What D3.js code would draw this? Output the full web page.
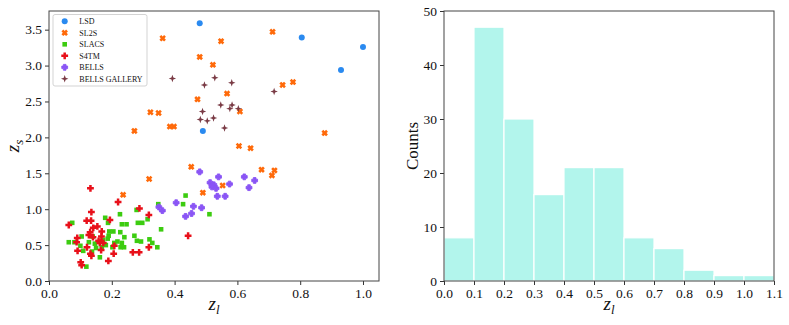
<!DOCTYPE html>
<html>
<head>
<meta charset="utf-8">
<script src="https://cdn.jsdelivr.net/npm/d3@7"></script>
<style>
  body { margin: 0; background: #fff; }
  svg { display: block; }
  text { font-family: "Liberation Serif", "Times New Roman", serif; fill: #111; }
</style>
</head>
<body>
<script>
// lens samples: [z_l, z_s]
const LSD = [[0.48,3.59],[0.805,3.39],[1.0,3.26],[0.93,2.94],[0.49,2.09]];
const SL2S = [[0.362,3.38],[0.712,3.47],[0.548,3.34],[0.480,3.12],[0.522,3.01],[0.744,2.73],
  [0.777,2.77],[0.567,2.61],[0.473,2.53],[0.323,2.35],[0.349,2.34],[0.608,2.36],[0.385,2.15],
  [0.398,2.15],[0.272,2.09],[0.605,1.88],[0.642,1.85],[0.878,2.06],[0.677,1.55],[0.718,1.54],
  [0.710,1.47],[0.553,1.33],[0.490,1.23],[0.453,1.59],[0.319,1.42],[0.236,1.20]];
const SLACS = [[0.074,0.81],[0.179,0.88],[0.226,0.93],[0.188,0.81],[0.232,0.79],[0.247,0.79],
  [0.283,0.81],[0.297,0.81],[0.279,0.99],[0.348,1.07],[0.435,1.19],[0.511,0.93],[0.357,0.72],
  [0.314,0.86],[0.192,0.69],[0.205,0.69],[0.227,0.68],[0.272,0.63],[0.280,0.56],[0.293,0.55],
  [0.320,0.58],[0.329,0.53],[0.345,0.47],[0.190,0.63],[0.187,0.59],[0.218,0.55],[0.240,0.61],
  [0.232,0.53],[0.228,0.47],[0.239,0.47],[0.208,0.53],[0.202,0.47],[0.172,0.57],[0.146,0.52],
  [0.139,0.62],[0.104,0.62],[0.063,0.54],[0.081,0.54],[0.127,0.54],[0.150,0.46],[0.162,0.33],
  [0.119,0.20],[0.100,0.49],[0.109,0.42],[0.137,0.41],[0.181,0.50],[0.168,0.47],[0.427,1.07]];
const S4TM = [[0.132,1.29],[0.135,0.96],[0.220,1.10],[0.288,1.01],[0.318,0.92],[0.063,0.78],
  [0.120,0.84],[0.134,0.84],[0.154,0.76],[0.141,0.74],[0.168,0.69],[0.131,0.68],[0.127,0.64],
  [0.090,0.60],[0.088,0.54],[0.158,0.56],[0.162,0.53],[0.173,0.53],[0.194,0.85],[0.208,0.49],
  [0.121,0.47],[0.091,0.42],[0.132,0.38],[0.135,0.35],[0.166,0.43],[0.206,0.38],[0.189,0.28],
  [0.101,0.26],[0.104,0.22],[0.267,0.40],[0.287,0.40],[0.318,0.47],[0.443,0.63],[0.140,0.61],
  [0.167,0.62]];
const BELLS = [[0.480,1.52],[0.540,1.45],[0.622,1.45],[0.655,1.40],[0.513,1.37],[0.525,1.34],
  [0.519,1.31],[0.532,1.29],[0.575,1.35],[0.637,1.30],[0.536,1.18],[0.561,1.18],[0.405,1.09],
  [0.460,1.04],[0.486,1.02],[0.454,0.94],[0.435,0.90],[0.350,1.03],[0.361,0.98]];
const BELLS_GALLERY = [[0.393,2.82],[0.528,2.83],[0.495,2.73],[0.582,2.76],[0.717,2.64],
  [0.547,2.45],[0.583,2.45],[0.576,2.40],[0.603,2.40],[0.489,2.36],[0.482,2.25],[0.504,2.23],
  [0.524,2.27],[0.559,2.13]];

const seriesNames = ["LSD", "SL2S", "SLACS", "S4TM", "BELLS", "BELLS GALLERY"];
const seriesData = [LSD, SL2S, SLACS, S4TM, BELLS, BELLS_GALLERY];

const scatterXTicks = [0.0, 0.2, 0.4, 0.6, 0.8, 1.0];
const scatterYTicks = [0.0, 0.5, 1.0, 1.5, 2.0, 2.5, 3.0, 3.5];

// histogram of z_l
const binEdges = [0.0, 0.1, 0.2, 0.3, 0.4, 0.5, 0.6, 0.7, 0.8, 0.9, 1.0, 1.1];
const counts = [8, 47, 30, 16, 21, 21, 8, 6, 2, 1, 1];
const histYTicks = [0, 10, 20, 30, 40, 50];

// marker shapes
function crossPath(r, w) {
    return `M${-w},${-r}H${w}V${-w}H${r}V${w}H${w}V${r}H${-w}V${w}H${-r}V${-w}H${-w}Z`;
}
function star4(r, ri) {
    return `M0,${-r}L${ri},${-ri}L${r},0L${ri},${ri}L0,${r}L${-ri},${ri}L${-r},0L${-ri},${-ri}Z`;
}
const markers = [
    { color: "#2a8af0", d: "M3,0A3,3 0 1,1 -3,0A3,3 0 1,1 3,0Z", rot: 0, stroke: 0 },
    { color: "#ff6a0a", d: crossPath(3.3, 1.3), rot: 45, stroke: 0 },
    { color: "#3ccc10", d: "M-2.3,-2.3H2.3V2.3H-2.3Z", rot: 0, stroke: 0 },
    { color: "#e8101a", d: crossPath(3.4, 1.25), rot: 0, stroke: 0 },
    { color: "#8a55f5", d: crossPath(2.9, 1.3), rot: 0, stroke: 0.9 },
    { color: "#7a3b45", d: star4(3.7, 0.95), rot: 0, stroke: 0 }
];

const W = 789, H = 325;
const svg = d3.select("body").append("svg").attr("width", W).attr("height", H);

const fontTick = 13.5;

function styleAxis(g) {
    g.select(".domain").remove();
    g.selectAll(".tick line").attr("stroke", "#333");
    g.selectAll(".tick text").attr("font-size", fontTick)
        .attr("font-family", "'Liberation Serif', 'Times New Roman', serif").attr("fill", "#111");
}

function mathLabel(parent, sub) {
    const t = parent.append("text").attr("font-size", 19).attr("text-anchor", "middle");
    t.append("tspan").attr("font-style", "italic").text("z");
    t.append("tspan").attr("font-style", "italic").attr("font-size", 13).attr("dy", "0.3em").text(sub);
    return t;
}

// ---------- left: scatter ----------
const L = { x: 49, y: 11, w: 330, h: 270 };
const gL = svg.append("g").attr("transform", `translate(${L.x},${L.y})`);
const x = d3.scaleLinear().domain([0, 1.051]).range([0, L.w]);
const y = d3.scaleLinear().domain([0, 3.76]).range([L.h, 0]);

gL.append("g").attr("transform", `translate(0,${L.h})`)
    .call(d3.axisBottom(x).tickValues(scatterXTicks).tickFormat(d3.format(".1f")).tickSize(4).tickPadding(3))
    .call(styleAxis);
gL.append("g")
    .call(d3.axisLeft(y).tickValues(scatterYTicks).tickFormat(d3.format(".1f")).tickSize(4).tickPadding(3))
    .call(styleAxis);

seriesData.forEach((data, i) => {
    const m = markers[i];
    gL.append("g").selectAll("path")
        .data(data)
        .enter().append("path")
        .attr("d", m.d)
        .attr("transform", d => `translate(${x(d[0])},${y(d[1])}) rotate(${m.rot})`)
        .attr("fill", m.color)
        .attr("stroke", m.stroke ? m.color : "none")
        .attr("stroke-width", m.stroke)
        .attr("stroke-linejoin", "round");
});

gL.append("rect").attr("width", L.w).attr("height", L.h)
    .attr("fill", "none").attr("stroke", "#444").attr("stroke-width", 1);

// legend
const leg = gL.append("g").attr("transform", "translate(4,3.5)");
leg.append("rect").attr("width", 94).attr("height", 71.5).attr("rx", 2)
    .attr("fill", "#fff").attr("fill-opacity", 0.85).attr("stroke", "#d3d3d3").attr("stroke-width", 1);
seriesNames.forEach((name, i) => {
    const m = markers[i];
    const row = leg.append("g").attr("transform", `translate(0,${6.8 + i * 11.5})`);
    row.append("path").attr("d", m.d)
        .attr("transform", `translate(11.7,0) rotate(${m.rot})`)
        .attr("fill", m.color)
        .attr("stroke", m.stroke ? m.color : "none")
        .attr("stroke-width", m.stroke)
        .attr("stroke-linejoin", "round");
    row.append("text").attr("x", 26.3).attr("dy", "0.35em").attr("font-size", 8).text(name);
});

mathLabel(gL.append("g").attr("transform", `translate(${L.w / 2},${L.h + 29})`), "l");
mathLabel(svg.append("g").attr("transform", `translate(19,${L.y + L.h / 2}) rotate(-90)`), "s");

// ---------- right: histogram ----------
const R = { x: 444, y: 11, w: 330, h: 270 };
const gR = svg.append("g").attr("transform", `translate(${R.x},${R.y})`);
const xh = d3.scaleLinear().domain([0, 1.1]).range([0, R.w]);
const yh = d3.scaleLinear().domain([0, 50]).range([R.h, 0]);

gR.append("g").selectAll("rect")
    .data(counts)
    .enter().append("rect")
    .attr("x", (d, i) => xh(binEdges[i]))
    .attr("width", (d, i) => xh(binEdges[i + 1]) - xh(binEdges[i]))
    .attr("y", d => yh(d))
    .attr("height", d => yh(0) - yh(d))
    .attr("fill", "#b2f5ec")
    .attr("stroke", "#fff")
    .attr("stroke-width", 1.2);

gR.append("g").attr("transform", `translate(0,${R.h})`)
    .call(d3.axisBottom(xh).tickValues(binEdges).tickFormat(d3.format(".1f")).tickSize(4).tickPadding(3))
    .call(styleAxis);
gR.append("g")
    .call(d3.axisLeft(yh).tickValues(histYTicks).tickFormat(d3.format("d")).tickSize(4).tickPadding(3))
    .call(styleAxis);

gR.append("rect").attr("width", R.w).attr("height", R.h)
    .attr("fill", "none").attr("stroke", "#444").attr("stroke-width", 1);

mathLabel(gR.append("g").attr("transform", `translate(${R.w / 2},${R.h + 29})`), "l");
svg.append("text")
    .attr("transform", `translate(418,${R.y + R.h / 2}) rotate(-90)`)
    .attr("text-anchor", "middle").attr("font-size", 17).text("Counts");
</script>
</body>
</html>
